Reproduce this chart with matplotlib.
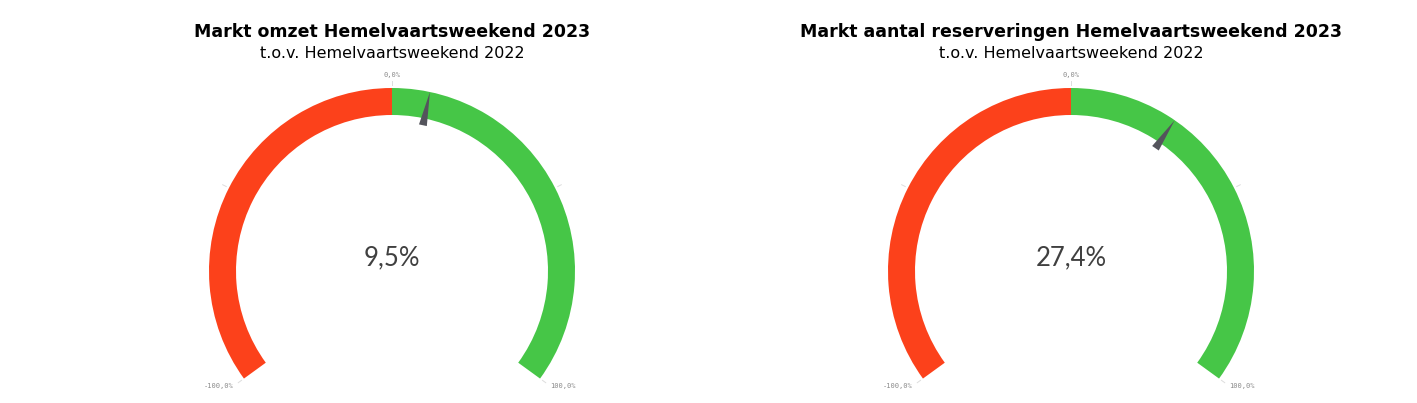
import numpy as np
import matplotlib
matplotlib.use("Agg")
import matplotlib.pyplot as plt
from matplotlib.patches import Wedge, Polygon

# Gegevens
titels = ["Markt omzet Hemelvaartsweekend 2023",
          "Markt aantal reserveringen Hemelvaartsweekend 2023"]
subtitels = ["t.o.v. Hemelvaartsweekend 2022",
             "t.o.v. Hemelvaartsweekend 2022"]
waarden = [9.5, 27.4]
schaal_min, schaal_max = -100.0, 100.0
tick_waarden = [-100, -50, 0, 50, 100]
label_waarden = [-100, 0, 100]

ROOD = "#FC411B"
GROEN = "#46C647"
NAALD = "#54545C"

W, H = 1417, 403
HALF_HOEK = 126.0  # graden links/rechts van boven


def hoek(v):
    # v -> hoek vanaf boven, met de klok mee (graden)
    return (v - schaal_min) / (schaal_max - schaal_min) * 2 * HALF_HOEK - HALF_HOEK


def punt(cx, cy, r, a):
    a = np.radians(a)
    return cx + r * np.sin(a), cy + r * np.cos(a)


def fmt(v):
    return f"{v:.1f}".replace(".", ",") + "%"


fig = plt.figure(figsize=(W / 100, H / 100), dpi=100)
ax = fig.add_axes([0, 0, 1, 1])
ax.set_xlim(0, W)
ax.set_ylim(0, H)
ax.set_aspect("equal")
ax.axis("off")

centra_x = [392, 1071]
cy = H - 271
r_buiten, r_binnen = 183, 156

for cx, titel, sub, val in zip(centra_x, titels, subtitels, waarden):
    # banden: rood links van 0, groen rechts
    a_min, a_0, a_max = hoek(schaal_min), hoek(0), hoek(schaal_max)
    ax.add_patch(Wedge((cx, cy), r_buiten, 90 - a_0, 90 - a_min,
                       width=r_buiten - r_binnen, color=ROOD, lw=0))
    ax.add_patch(Wedge((cx, cy), r_buiten, 90 - a_max, 90 - a_0,
                       width=r_buiten - r_binnen, color=GROEN, lw=0))

    # tickjes
    for t in tick_waarden:
        a = hoek(t)
        x0, y0 = punt(cx, cy, r_buiten + 3, a)
        x1, y1 = punt(cx, cy, r_buiten + 7, a)
        ax.plot([x0, x1], [y0, y1], color="#dddddd", lw=0.7)
    for t in label_waarden:
        a = hoek(t)
        x, y = punt(cx, cy, 196, a)
        ha = "center" if t == 0 else ("right" if t < 0 else "left")
        ax.text(x, y, fmt(t), ha=ha, va="center", fontsize=5,
                family="DejaVu Sans Mono", color="#8a8a8a")

    # naald
    a = hoek(val)
    tip = punt(cx, cy, r_buiten, a)
    bx, by = punt(cx, cy, 149, a)
    px, py = np.cos(np.radians(a)), -np.sin(np.radians(a))
    ax.add_patch(Polygon([tip, (bx + 4 * px, by + 4 * py), (bx - 4 * px, by - 4 * py)],
                         closed=True, color=NAALD, lw=0))

    # waarde in het midden
    ax.text(cx, H - 258, fmt(val), ha="center", va="center", fontsize=18.5,
            family="Lato", color="#404040")

    # titels
    ax.text(cx, H - 32, titel, ha="center", va="center", fontsize=12.5,
            fontweight="bold", color="black")
    ax.text(cx, H - 53, sub, ha="center", va="center", fontsize=11.5,
            color="black")

fig.savefig("out.png", dpi=100)
